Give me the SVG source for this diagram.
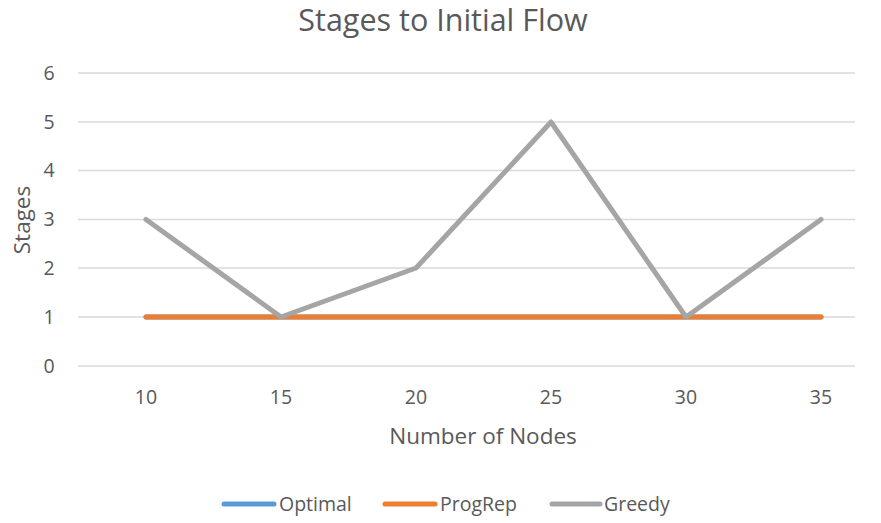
<svg xmlns="http://www.w3.org/2000/svg" width="881" height="523" viewBox="0 0 881 523">
<style>
.t{font-family:"Open Sans","Liberation Sans",sans-serif;fill:#595959}
.tick{font-size:19.5px}
.leg{font-size:19.5px}
.grid{stroke:#d9d9d9;stroke-width:1.3}
.ser{fill:none;stroke-width:5;stroke-linecap:round;stroke-linejoin:round}
</style>
<rect width="881" height="523" fill="#ffffff"/>
<text class="t" x="443" y="31" font-size="30.5" text-anchor="middle">Stages to Initial Flow</text>
<g id="grid">
<line class="grid" x1="78" y1="73" x2="855" y2="73"/>
<line class="grid" x1="78" y1="122" x2="855" y2="122"/>
<line class="grid" x1="78" y1="170.5" x2="855" y2="170.5"/>
<line class="grid" x1="78" y1="219.5" x2="855" y2="219.5"/>
<line class="grid" x1="78" y1="268" x2="855" y2="268"/>
<line class="grid" x1="78" y1="317" x2="855" y2="317"/>
<line class="grid" x1="78" y1="366" x2="855" y2="366"/>
</g>
<g id="yticks" class="t tick" text-anchor="middle">
<text x="49" y="80">6</text>
<text x="49" y="129">5</text>
<text x="49" y="177">4</text>
<text x="49" y="226">3</text>
<text x="49" y="275">2</text>
<text x="49" y="324">1</text>
<text x="49" y="373">0</text>
</g>
<g id="xticks" class="t tick" text-anchor="middle">
<text x="146" y="404">10</text>
<text x="281" y="404">15</text>
<text x="416" y="404">20</text>
<text x="551" y="404">25</text>
<text x="686" y="404">30</text>
<text x="821" y="404">35</text>
</g>
<text class="t" x="483" y="444" font-size="22.5" text-anchor="middle">Number of Nodes</text>
<text class="t" font-size="22.5" text-anchor="middle" transform="translate(30,220) rotate(-90)">Stages</text>
<g id="series">
<polyline class="ser" stroke="#5b9bd5" points="146,317 281,317 416,317 551,317 686,317 821,317"/>
<polyline class="ser" stroke="#ed7d31" points="146,317 281,317 416,317 551,317 686,317 821,317"/>
<polyline class="ser" stroke="#a5a5a5" points="146,219.5 281,317 416,268 551,122 686,317 821,219.5"/>
</g>
<g id="legend">
<line x1="224" y1="504" x2="274" y2="504" stroke="#5b9bd5" stroke-width="5" stroke-linecap="round"/>
<text class="t leg" x="279" y="511">Optimal</text>
<line x1="385" y1="504" x2="435" y2="504" stroke="#ed7d31" stroke-width="5" stroke-linecap="round"/>
<text class="t leg" x="440" y="511">ProgRep</text>
<line x1="552" y1="504" x2="600" y2="504" stroke="#a5a5a5" stroke-width="5" stroke-linecap="round"/>
<text class="t leg" x="604" y="511">Greedy</text>
</g>
</svg>
